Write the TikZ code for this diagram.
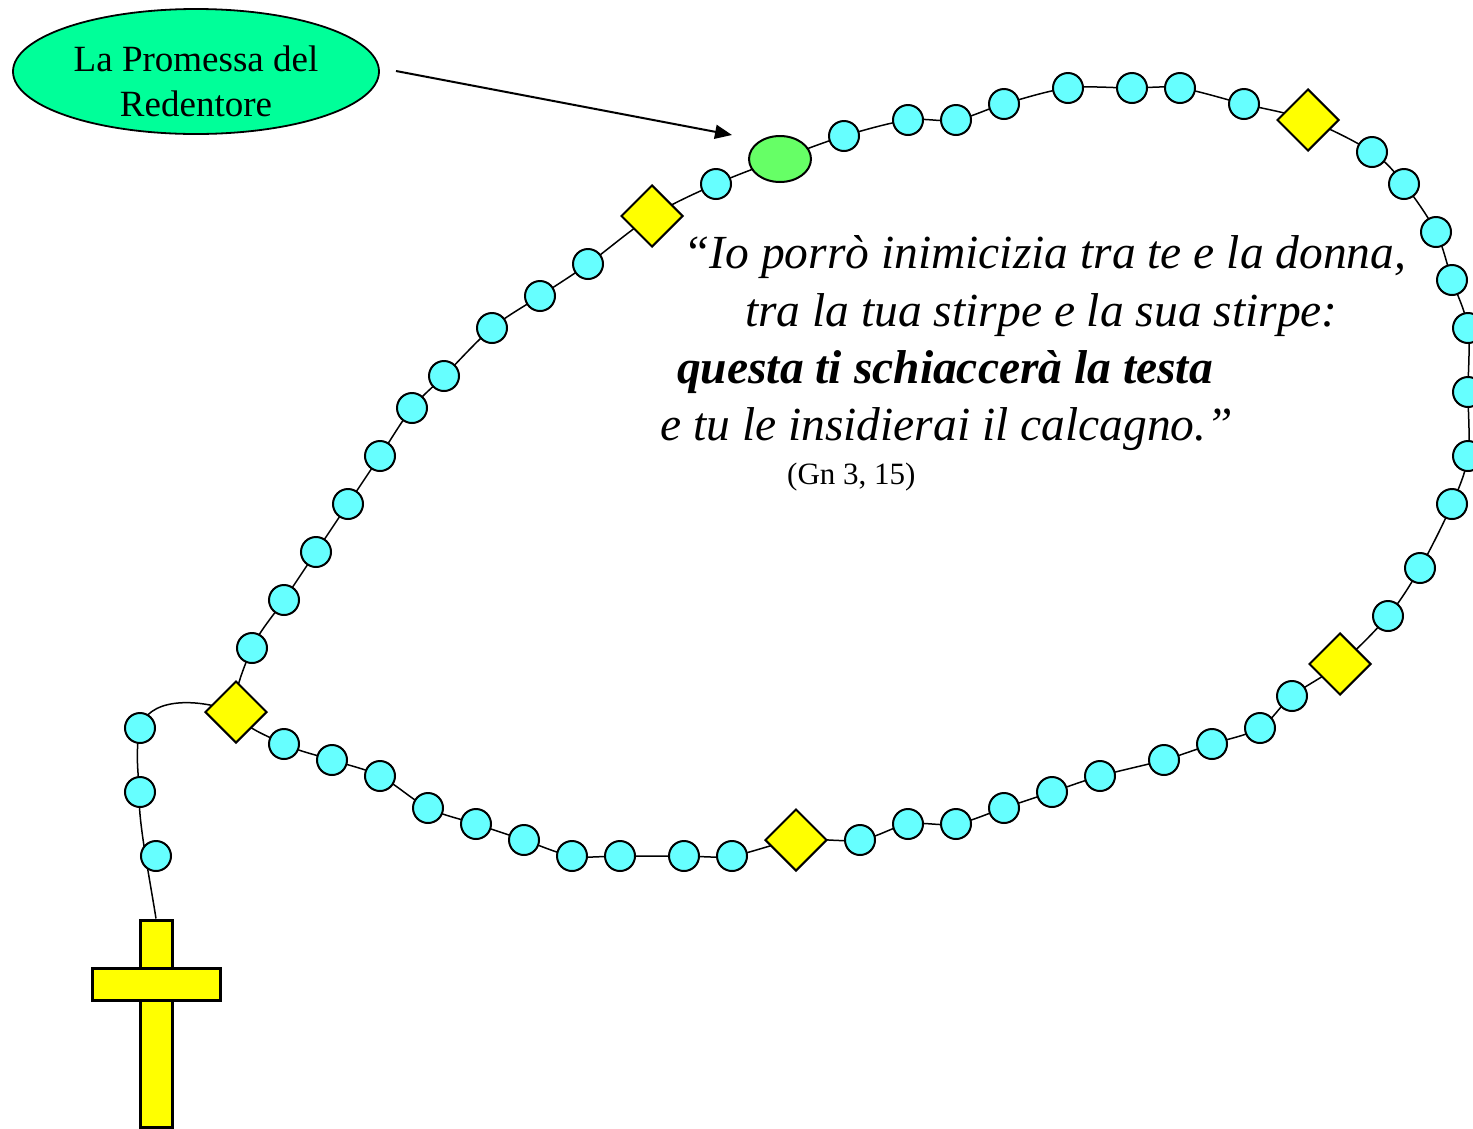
\documentclass[tikz,border=0pt]{standalone}
\usepackage{fontspec}
\setmainfont{Liberation Serif}
\usetikzlibrary{shapes.geometric,arrows.meta}
\pgfdeclarelayer{bg}
\pgfsetlayers{bg,main}
\definecolor{beadcyan}{HTML}{66FFFF}
\definecolor{ovalgreen}{HTML}{66FF66}
\definecolor{labgreen}{HTML}{00FF99}
\definecolor{crossyellow}{HTML}{FFFF00}
\tikzset{
  bead/.style={circle, draw, line width=2pt, fill=beadcyan, minimum size=30pt, inner sep=0pt},
  paterbox/.style={diamond, draw, line width=2pt, fill=crossyellow, minimum width=62pt, minimum height=62pt, inner sep=0pt},
  ovalbead/.style={ellipse, draw, line width=2pt, fill=ovalgreen, minimum width=62pt, minimum height=46pt, inner sep=0pt},
  crossbar/.style={rectangle, draw, line width=3pt, fill=crossyellow, inner sep=0pt},
  string/.style={line width=1.5pt},
  quote/.style={anchor=base west, inner sep=0pt, font=\fontsize{47.5}{57}\selectfont\itshape},
}
\begin{document}
\begin{tikzpicture}[x=1pt,y=-1pt]
\useasboundingbox (0,0) rectangle (1473,1128);
% label
\node[ellipse, draw, line width=1.8pt, fill=labgreen, minimum width=366pt, minimum height=125pt, inner sep=0pt] (lab) at (196,71.5) {};
\node[align=center, inner sep=0pt, font=\fontsize{37}{45}\selectfont, yshift=-10pt] (labtext) at (lab.center) {La Promessa del\\Redentore};
\coordinate (as) at (396,71);
\coordinate (ae) at (732,135);
\draw[line width=2pt, -{Triangle[length=17pt,width=14pt]}] (as) -- (ae);
% diamonds
\foreach \n/\x/\y in {d1/236/712, d2/652/216, d3/1308/120, d4/1340/664, d5/796/840}
  \node[paterbox] (\n) at (\x,\y) {};
% green oval
\node[ovalbead] (g) at (780,159) {};
% beads
\foreach \n/\x/\y in {l1/252/648, l2/284/600, l3/316/552, l4/348/504, l5/380/456, l6/412/408, l7/444/376, l8/492/328, l9/540/296, l10/588/264,
  b/716/184,
  t1/844/136, t2/908/120, t3/956/120, t4/1004/104, t5/1068/88, t6/1132/88, t7/1180/88, t8/1244/104,
  r1/1372/152, r2/1404/184, r3/1436/232, r4/1452/280, r5/1468/328, r6/1468/392, r7/1468/456, r8/1452/504, r9/1420/568, r10/1388/616,
  s1/1292/696, s2/1260/728, s3/1212/744, s4/1164/760, s5/1100/776, s6/1052/792, s7/1004/808, s8/956/824, s9/908/824, s10/860/840,
  u1/732/856, u2/684/856, u3/620/856, u4/572/856, u5/524/840, u6/476/824, u7/428/808, u8/380/776, u9/332/760, u10/284/744,
  p1/140/728, p2/140/792, p3/156/856}
  \node[bead] (\n) at (\x,\y) {};
% cross
\node[crossbar, minimum width=32pt, minimum height=207pt] (cv) at (156,1023.5) {};
\node[crossbar, minimum width=128pt, minimum height=32pt] (ch) at (156,984) {};
% strings
\begin{pgfonlayer}{bg}
\draw[string] plot[smooth cycle, tension=0.55] coordinates {
  (d1.center) (l1.center) (l2.center) (l3.center) (l4.center) (l5.center) (l6.center) (l7.center) (l8.center) (l9.center) (l10.center)
  (d2.center) (b.center) (g.center)
  (t1.center) (t2.center) (t3.center) (t4.center) (t5.center) (t6.center) (t7.center) (t8.center)
  (d3.center) (r1.center) (r2.center) (r3.center) (r4.center) (r5.center) (r6.center) (r7.center) (r8.center) (r9.center) (r10.center)
  (d4.center) (s1.center) (s2.center) (s3.center) (s4.center) (s5.center) (s6.center) (s7.center) (s8.center) (s9.center) (s10.center)
  (d5.center) (u1.center) (u2.center) (u3.center) (u4.center) (u5.center) (u6.center) (u7.center) (u8.center) (u9.center) (u10.center)};
\draw[string] (cv.north) .. controls (150,880) and (136,810) .. (p2.center)
  .. controls (137,770) and (136,745) .. (p1.center)
  .. controls (148,700) and (190,696) .. (d1.center);
\end{pgfonlayer}
% quote
\node[quote] (q1) at (683,268) {“Io porrò inimicizia tra te e la donna,};
\node[quote] (q2) at (745,326) {tra la tua stirpe e la sua stirpe:};
\node[quote, font=\fontsize{47.5}{57}\selectfont\bfseries\itshape] (q3) at (677,383) {questa ti schiaccerà la testa};
\node[quote] (q4) at (660,440) {e tu le insidierai il calcagno.”};
\node[anchor=base west, inner sep=0pt, font=\fontsize{31}{37}\selectfont] (gn) at (787,484) {(Gn 3, 15)};
\end{tikzpicture}
\end{document}
